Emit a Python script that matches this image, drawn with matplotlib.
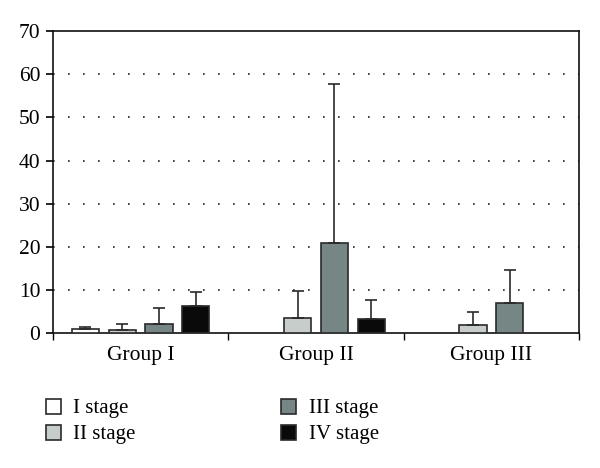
import matplotlib.pyplot as plt
import numpy as np
from matplotlib.patches import Patch

plt.rcParams['font.family'] = ['Liberation Serif', 'DejaVu Serif']

groups = ['Group I', 'Group II', 'Group III']
stages = ['I stage', 'II stage', 'III stage', 'IV stage']
colors = ['#ffffff', '#c6cdca', '#758685', '#0a0a0a']

# mean values per stage (rows) and group (columns); nan = no bar
means = [
    [1.0, np.nan, np.nan],
    [0.7, 3.5, 1.9],
    [2.3, 20.9, 7.1],
    [6.3, 3.4, np.nan],
]
errs = [
    [0.6, np.nan, np.nan],
    [1.5, 6.3, 3.0],
    [3.5, 36.9, 7.7],
    [3.4, 4.3, np.nan],
]

fig = plt.figure(figsize=(6, 4.68), dpi=100)
ax = fig.add_axes([0.0883, 0.2874, 0.8767, 0.6464])

x = np.arange(len(groups)) + 0.5
width = 0.155
offsets = [-0.315, -0.105, 0.105, 0.315]

for i in range(len(stages)):
    ax.bar(x + offsets[i], means[i], width, yerr=[np.zeros(3), errs[i]],
           color=colors[i], edgecolor='#2a2a2a', linewidth=1.2,
           error_kw=dict(ecolor='#2a2a2a', elinewidth=1.2, capsize=4, capthick=1.2),
           zorder=3)

ax.set_xlim(0, 3)
ax.set_ylim(0, 70)
ax.set_yticks(range(0, 71, 10))
for yv in range(10, 70, 10):
    ax.axhline(yv, color='#222222', linestyle=(0, (1, 8)), linewidth=1.2, zorder=1)

ax.set_xticks([0, 1, 2, 3])
ax.set_xticklabels([])
ax.set_xticks(x, minor=True)
ax.set_xticklabels(groups, minor=True, fontsize=15.5)
ax.tick_params(axis='x', which='minor', length=0, pad=9)
ax.tick_params(axis='x', which='major', length=5, direction='out', width=1)
ax.tick_params(axis='y', labelsize=15.5, length=5, width=1.2, direction='out', pad=4)

for s in ax.spines.values():
    s.set_linewidth(1.2)
    s.set_color('#111111')

handles = [Patch(facecolor=colors[i], edgecolor='#2a2a2a', linewidth=1.2, label=stages[i])
           for i in range(len(stages))]
fig.legend(handles=handles, loc='upper left', bbox_to_anchor=(0.076, 0.148), ncol=2,
           frameon=False, fontsize=15, handlelength=0.72, handleheight=0.72,
           handletextpad=0.6, columnspacing=7.0, labelspacing=0.3,
           borderaxespad=0, borderpad=0)

fig.savefig('out.png', dpi=100)
